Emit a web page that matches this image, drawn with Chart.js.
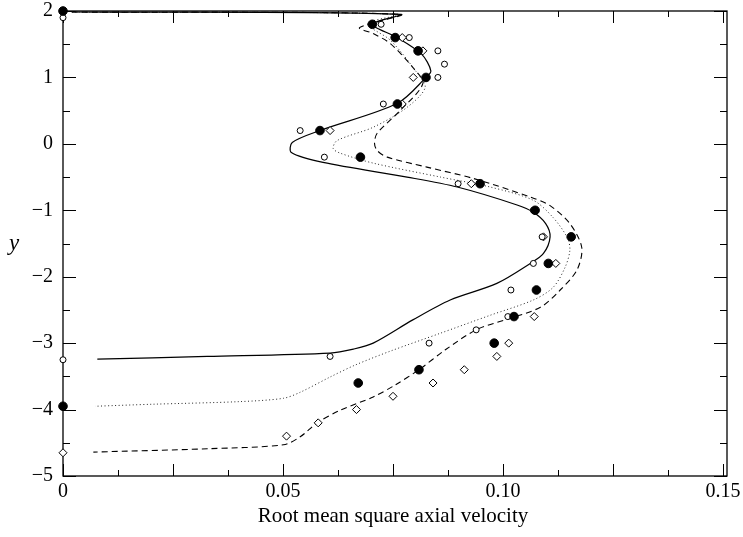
<!DOCTYPE html>
<html>
<head>
<meta charset="utf-8">
<script src="https://cdn.jsdelivr.net/npm/chart.js@4/dist/chart.umd.min.js"></script>
<style>
html,body{margin:0;padding:0;background:#fff;}
#wrap{width:743px;height:537px;}
</style>
</head>
<body>
<div id="wrap"><canvas id="chart" width="743" height="537"></canvas></div>
<script>
// curves (x = rms axial velocity, y = position)
const solidX=[0.002,0.0767,0.0703,0.0760,0.0815,0.0836,0.0825,0.0760,0.0584,0.0521,0.0519,0.0591,0.0782,0.0896,0.1032,0.1069,0.1097,0.1107,0.1092,0.1062,0.0986,0.0880,0.0795,0.0705,0.0660,0.0607,0.0328,0.0078];
const solidY=[1.985,1.95,1.80,1.60,1.35,1.10,1.0,0.61,0.20,0.02,-0.13,-0.28,-0.50,-0.65,-0.92,-1.03,-1.20,-1.40,-1.65,-1.80,-2.10,-2.35,-2.65,-3.0,-3.09,-3.15,-3.20,-3.24];

const dotX=[0.002,0.0767,0.0692,0.0744,0.0800,0.0823,0.0782,0.0705,0.0623,0.0614,0.0630,0.0705,0.0858,0.0971,0.1069,0.1114,0.1146,0.1152,0.1141,0.1114,0.1069,0.0971,0.0858,0.0744,0.0664,0.0607,0.0539,0.0501,0.0403,0.0202,0.0073];
const dotY=[1.985,1.95,1.81,1.56,1.11,0.85,0.55,0.25,0.05,-0.07,-0.14,-0.29,-0.50,-0.65,-0.85,-1.11,-1.41,-1.60,-1.86,-2.16,-2.35,-2.58,-2.85,-3.12,-3.33,-3.51,-3.74,-3.83,-3.88,-3.92,-3.95];

const dashX=[0.002,0.0767,0.0674,0.0705,0.0744,0.0795,0.0818,0.0766,0.0714,0.0708,0.0714,0.0737,0.0827,0.0932,0.1062,0.1107,0.1152,0.1179,0.1168,0.1130,0.1085,0.1004,0.0939,0.0869,0.0809,0.0755,0.0705,0.0630,0.0578,0.0539,0.0501,0.0328,0.0069];
const dashY=[1.985,1.95,1.75,1.66,1.51,1.15,0.91,0.50,0.16,0.01,-0.10,-0.20,-0.35,-0.52,-0.80,-0.93,-1.20,-1.56,-1.90,-2.20,-2.46,-2.65,-2.80,-3.10,-3.40,-3.63,-3.81,-4.01,-4.20,-4.41,-4.53,-4.59,-4.64];

// measured points
const filledX=[0,0.0703,0.0755,0.0807,0.0825,0.0760,0.0584,0.0676,0.0948,0.1073,0.1155,0.1103,0.1076,0.1025,0.0980,0.0809,0.0671,0];
const filledY=[2.0,1.8,1.6,1.4,1.0,0.6,0.2,-0.2,-0.6,-1.0,-1.4,-1.8,-2.2,-2.6,-3.0,-3.4,-3.6,-3.95];

const openX=[0,0.0723,0.0787,0.0852,0.0867,0.0852,0.0728,0.0539,0.0594,0.0898,0.1069,0.1089,0.1069,0.1018,0.1011,0.0939,0.0832,0.0607,0];
const openY=[1.9,1.8,1.6,1.4,1.2,1.0,0.6,0.2,-0.2,-0.6,-1.0,-1.4,-1.8,-2.2,-2.6,-2.8,-3.0,-3.2,-3.25];

const diamX=[0.0771,0.0818,0.0796,0.0771,0.0607,0.0928,0.1092,0.1120,0.1071,0.1013,0.0986,0.0912,0.0841,0.0750,0.0667,0.0580,0.0508,0];
const diamY=[1.6,1.4,1.0,0.6,0.2,-0.6,-1.4,-1.8,-2.6,-3.0,-3.2,-3.4,-3.6,-3.8,-4.0,-4.2,-4.4,-4.65];

const xLabels=[0,0.05,0.10,0.15];
const xLabelText=["0","0.05","0.10","0.15"];

const pts=(xs,ys)=>xs.map((x,i)=>({x:x,y:ys[i]}));
const serif="'Liberation Serif','Times New Roman',serif";

const frame={
id:"frame",
beforeDatasetsDraw(c){
const {ctx,chartArea:a,scales:{x,y}}=c;
const right=a.right+4; // frame sits a little past the 0.15 tick
ctx.save();
ctx.strokeStyle="#000";
ctx.lineWidth=1.3;
ctx.strokeRect(a.left,a.top,right-a.left,a.bottom-a.top);
ctx.lineWidth=1;
ctx.beginPath();
for(let i=0;i<=12;i++){
let px=Math.round(x.getPixelForValue(i*0.0125))+0.5;
let len=i%2==0?12:6;
ctx.moveTo(px,a.bottom);ctx.lineTo(px,a.bottom-len);
ctx.moveTo(px,a.top);ctx.lineTo(px,a.top+len);
}
for(let v=-5;v<=2;v+=0.5){
let py=Math.round(y.getPixelForValue(v))+0.5;
let len=Number.isInteger(v)?13:7;
ctx.moveTo(a.left,py);ctx.lineTo(a.left+len,py);
ctx.moveTo(right,py);ctx.lineTo(right-len,py);
}
ctx.stroke();
// y axis title, kept upright like the original
ctx.fillStyle="#000";
ctx.font="italic 23px "+serif;
ctx.textAlign="center";ctx.textBaseline="alphabetic";
ctx.fillText("y",14,250);
ctx.restore();
}
};

const ctx=document.getElementById("chart").getContext("2d");
const chart=new Chart(ctx,{
type:"scatter",
data:{datasets:[
{data:pts(filledX,filledY),pointStyle:"circle",pointRadius:4.3,backgroundColor:"#000",borderColor:"#000",borderWidth:1,order:1,clip:false},
{data:pts(openX,openY),pointStyle:"circle",pointRadius:3,backgroundColor:"#fff",borderColor:"#000",borderWidth:1,order:2,clip:false},
{data:pts(diamX,diamY),pointStyle:"rectRot",pointRadius:4,backgroundColor:"#fff",borderColor:"#000",borderWidth:1,order:3,clip:false},
{data:pts(solidX,solidY),showLine:true,pointRadius:0,borderColor:"#000",borderWidth:1.2,tension:0.3,order:4},
{data:pts(dotX,dotY),showLine:true,pointRadius:0,borderColor:"#222",borderWidth:1,borderDash:[1,2.5],tension:0.3,order:5},
{data:pts(dashX,dashY),showLine:true,pointRadius:0,borderColor:"#000",borderWidth:1.1,borderDash:[6,4],tension:0.3,order:6}
]},
options:{
responsive:false,animation:false,
layout:{padding:{top:11,right:20,left:0,bottom:0}},
plugins:{legend:{display:false},tooltip:{enabled:false}},
scales:{
x:{
type:"linear",min:0,max:0.15,
grid:{display:false,drawTicks:false},border:{display:false},
afterBuildTicks:s=>{s.ticks=xLabels.map(v=>({value:v}));},
ticks:{color:"#000",padding:4,maxRotation:0,font:{family:serif,size:20},
callback:v=>xLabelText[xLabels.findIndex(t=>Math.abs(t-v)<1e-9)]},
title:{display:true,text:"Root mean square axial velocity",color:"#000",font:{family:serif,size:21},padding:{top:0,bottom:8}},
afterFit:s=>{s.height=61;s.paddingLeft=0;s.paddingRight=0;}
},
y:{
type:"linear",min:-5,max:2,
grid:{display:false,drawTicks:false},border:{display:false},
ticks:{stepSize:1,color:"#000",padding:10,font:{family:serif,size:20},
callback:v=>v<0?"\u2212"+Math.abs(v):String(v)},
afterFit:s=>{s.width=63;s.paddingTop=0;s.paddingBottom=0;}
}
}
},
plugins:[frame]
});
</script>
</body>
</html>
